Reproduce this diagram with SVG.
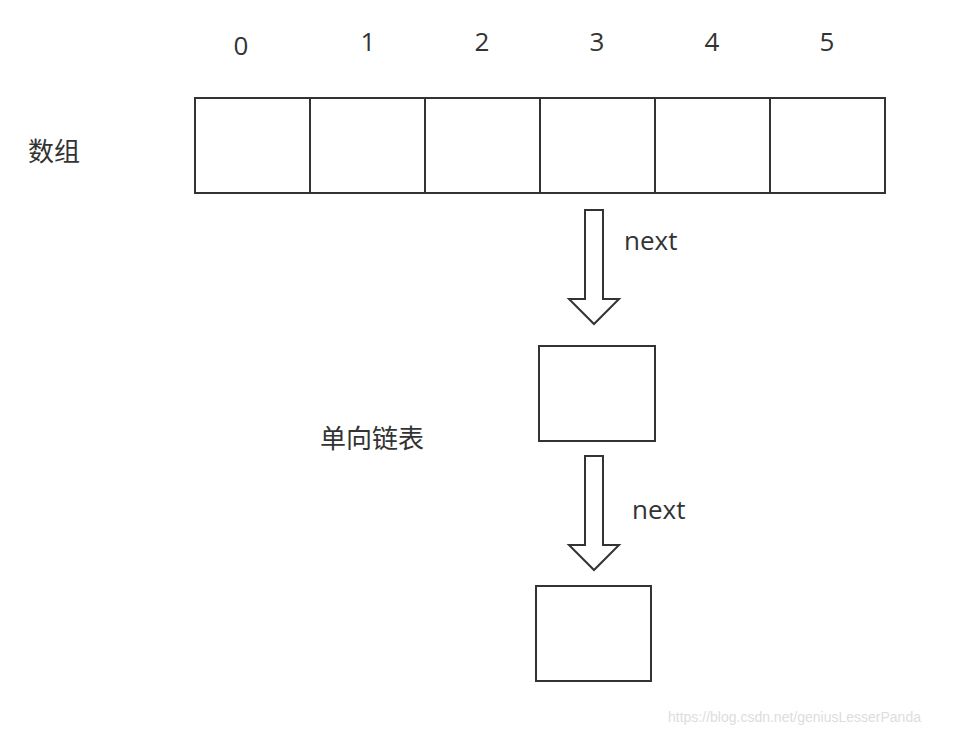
<svg xmlns="http://www.w3.org/2000/svg" width="964" height="734" viewBox="0 0 964 734">
<style>
.b{fill:#fff;stroke:#333;stroke-width:2}
.t{font-family:"Open Sans","Noto Sans CJK SC",sans-serif;font-size:26px;fill:#333}
.w{font-family:"Liberation Sans",sans-serif;font-size:14px;fill:#ddd}
</style>
<rect width="964" height="734" fill="#fff"/>
<g id="array">
<rect class="b" x="195" y="98" width="115" height="95"/>
<rect class="b" x="310" y="98" width="115" height="95"/>
<rect class="b" x="425" y="98" width="115" height="95"/>
<rect class="b" x="540" y="98" width="115" height="95"/>
<rect class="b" x="655" y="98" width="115" height="95"/>
<rect class="b" x="770" y="98" width="115" height="95"/>
<text class="t" x="241" y="55" text-anchor="middle">0</text>
<text class="t" x="368" y="51" text-anchor="middle">1</text>
<text class="t" x="482" y="51" text-anchor="middle">2</text>
<text class="t" x="597" y="51" text-anchor="middle">3</text>
<text class="t" x="712" y="51" text-anchor="middle">4</text>
<text class="t" x="827" y="51" text-anchor="middle">5</text>
<text class="t" x="28" y="161">数组</text>
</g>
<g id="node1"><rect class="b" x="539" y="346" width="116" height="95"/></g>
<g id="node2"><rect class="b" x="536" y="586" width="115" height="95"/></g>
<text class="t" x="320" y="448">单向链表</text>
<g id="connectors">
<path class="b" d="M585 210H603V299H619L594 324L569 299H585Z"/>
<path class="b" d="M585 456H603V545H619L594 570L569 545H585Z"/>
<text class="t" x="624" y="250">next</text>
<text class="t" x="632" y="519">next</text>
</g>
<text class="w" x="668" y="722">https://blog.csdn.net/geniusLesserPanda</text>
</svg>
